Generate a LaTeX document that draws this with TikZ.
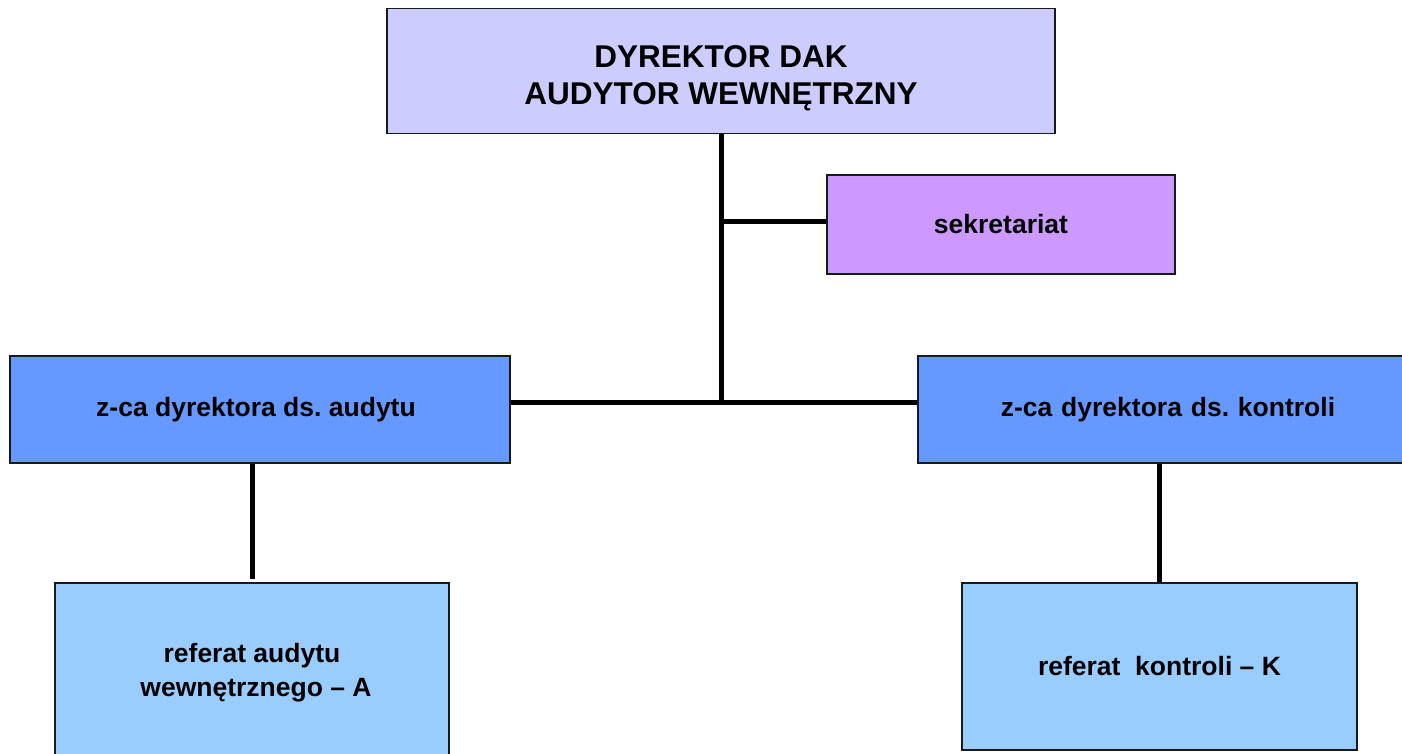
\documentclass[tikz,border=0pt]{standalone}
\usepackage{fontspec}
\setmainfont{Liberation Sans}
\usetikzlibrary{calc}
\definecolor{cTop}{HTML}{CCCCFF}
\definecolor{cSek}{HTML}{CC99FF}
\definecolor{cZca}{HTML}{6699FF}
\definecolor{cRef}{HTML}{99CCFF}
\definecolor{cBorder}{HTML}{1A1A1A}
\frenchspacing
\tikzset{
  box/.style={draw=cBorder, line width=1.5pt, inner sep=0pt, align=center, font=\bfseries\fontsize{26.5}{34}\selectfont},
  link/.style={line width=5pt, draw=black},
}
\begin{document}
\begin{tikzpicture}[x=1pt,y=-1pt]
\useasboundingbox (0,0) rectangle (1402,753);
\clip (0,0) rectangle (1402,753);
\fill[white] (0,0) rectangle (1402,753);
\node[box, fill=cTop, minimum width=668pt, minimum height=125pt, font=\bfseries\fontsize{31.5}{37}\selectfont] (top) at (721,71) {\rule{0pt}{36pt}DYREKTOR DAK\\AUDYTOR WEWNĘTRZNY};
\node[box, fill=cSek, minimum width=348pt, minimum height=99pt] (sek) at (1001,224.5) {sekretariat};
\node[box, fill=cZca, minimum width=500pt, minimum height=107pt] (za) at (260,409.5) {z-ca dyrektora ds. audytu\hspace*{8pt}};
\node[box, fill=cZca, minimum width=500pt, minimum height=107pt, text width=484pt] (zk) at (1168,409.5) {z-ca dyrektora ds. kontroli\hspace*{16pt}};
\node[box, fill=cRef, minimum width=394pt, minimum height=180pt] (ra) at (252,673) {referat audytu\\wewnętrznego – A\hspace*{-8pt}};
\node[box, fill=cRef, minimum width=395pt, minimum height=167pt] (rk) at (1159.5,666.5) {referat\ \ kontroli – K};
\coordinate (sekjoin) at (721,221);
\coordinate (hub) at (721,402);
\coordinate (raend) at (252,579);
\draw[link] (top.south) -- (hub);
\draw[link] (sekjoin) -- (sek.west |- sekjoin);
\draw[link] (za.east |- hub) -- (zk.west |- hub);
\draw[link] (za.south -| raend) -- (raend);
\draw[link] (zk.south -| rk.north) -- (rk.north);
\end{tikzpicture}
\end{document}
